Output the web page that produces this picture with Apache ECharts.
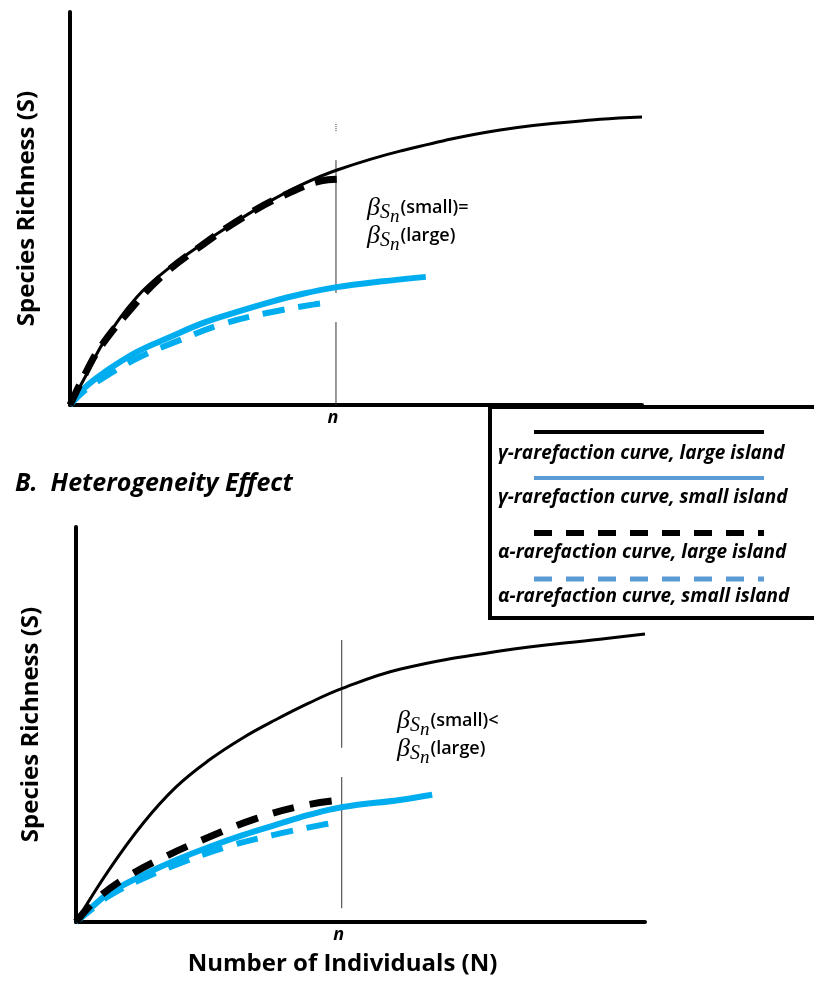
<!DOCTYPE html>
<html>
<head>
<meta charset="utf-8">
<script src="https://cdn.jsdelivr.net/npm/echarts@6/dist/echarts.min.js"></script>
<style>
  html, body { margin: 0; padding: 0; background: #fff; }
  #chart { width: 814px; height: 988px; }
</style>
</head>
<body>
<div id="chart"></div>
<script>
// Rarefaction curves, [N, S] pairs in relative units (0-100 on both axes)

// Panel A: same heterogeneity on both islands
const topGammaLarge = [[0,0],[3.0,8.1],[5.8,15.8],[11.7,27.5],[17.5,35.1],[23.3,41.2],[29.2,46.8],[34.9,51.8],[40.7,56.2],[46.7,59.8],[57.7,64.6],[75.2,70.0],[92.7,72.7],[100,73.3]];
const topAlphaLarge = [[0,0],[2.5,7.5],[5.2,14.5],[10.5,24.2],[16.3,33.1],[23.1,40.7],[30.1,47.6],[36.7,52.9],[45.1,57.3],[47.6,57.5]];
const topGammaSmall = [[0,0],[2.5,4.3],[5.8,8.1],[11.7,13.5],[17.5,17.3],[23.3,20.9],[29.2,23.7],[35.0,26.2],[40.7,28.3],[46.7,30.0],[54.2,31.4],[62.2,32.6]];
const topAlphaSmall = [[0,0],[2.5,3.6],[5.8,6.9],[12.2,12.2],[19.2,16.5],[26.2,20.4],[34.4,23.4],[42.7,25.6],[45.1,26.0]];

// Panel B: heterogeneity effect
const botGammaLarge = [[0,0],[5.8,13.2],[11.8,25.0],[17.6,34.2],[23.4,41.0],[29.3,46.6],[35.1,51.2],[40.9,55.4],[46.9,59.2],[56.9,64.0],[74.5,68.6],[92.1,71.6],[100,72.9]];
const botAlphaLarge = [[0,0],[3.5,5.6],[8.4,10.9],[15.6,16.5],[23.4,21.5],[31.5,26.1],[39.7,29.4],[46.6,30.9]];
const botGammaSmall = [[0,0],[2.9,3.9],[5.8,7.3],[11.8,11.9],[17.6,15.7],[23.4,19.0],[29.3,22.0],[35.1,24.6],[40.9,27.1],[46.9,29.1],[56.9,30.9],[62.6,32.2]];
const botAlphaSmall = [[0,0],[2.9,3.4],[5.8,6.6],[11.8,11.0],[18.3,14.9],[26.4,19.0],[34.6,22.0],[43.2,24.6],[45.3,25.1]];

// Sample size n marked on each panel
const nTop = 46.5;
const nBot = 46.7;
const nTopGuide = [[nTop,0],[nTop,21.1],[nTop,'-'],[nTop,28.5],[nTop,62.3]];
const nTopDots = [[nTop,69.7],[nTop,71.8]];
const nBotGuide = [[nBot,3.5],[nBot,36.7],[nBot,'-'],[nBot,44.1],[nBot,71.4]];

const xTitle = 'Number of Individuals (N)';
const yTitle = 'Species Richness (S)';
const panelBTitle = 'B.  Heterogeneity Effect';
const legendLabels = [
  'γ-rarefaction curve, large island',
  'γ-rarefaction curve, small island',
  'α-rarefaction curve, large island',
  'α-rarefaction curve, small island'
];
const noteTop = ['{b|β}{s|S}{m|n}{t|(small)=}', '{b|β}{s|S}{m|n}{t|(large)}'];
const noteBot = ['{b|β}{s|S}{m|n}{t|(small)<}', '{b|β}{s|S}{m|n}{t|(large)}'];

const BLACK = '#000000';
const CYAN = '#00aeef';
const LEGEND_BLUE = '#5b9bd5';
const SANS = '"Open Sans", "Noto Sans", sans-serif';
const SERIF = '"Liberation Serif", "DejaVu Serif", serif';

const chart = echarts.init(document.getElementById('chart'), null, { renderer: 'canvas' });

function xAx(gridIndex, nVal, withName) {
  return {
    type: 'value', gridIndex, min: 0, max: 100,
    axisLine: { show: true, onZero: false, lineStyle: { color: BLACK, width: 4 } },
    axisTick: { show: false },
    splitLine: { show: false },
    axisLabel: {
      customValues: [nVal],
      formatter: () => 'n',
      color: BLACK, fontFamily: SANS, fontWeight: 'bold', fontStyle: 'italic',
      fontSize: 18, margin: 4, padding: [0, 6, 0, 0]
    },
    name: withName ? xTitle : '',
    nameLocation: 'middle', nameGap: 30,
    nameTextStyle: { color: BLACK, fontFamily: SANS, fontWeight: 'bold', fontSize: 24, padding: [0, 36, 0, 0] }
  };
}
function yAx(gridIndex, gap) {
  return {
    type: 'value', gridIndex, min: 0, max: 100,
    axisLine: { show: true, onZero: false, lineStyle: { color: BLACK, width: 4 } },
    axisTick: { show: false }, axisLabel: { show: false }, splitLine: { show: false },
    name: yTitle, nameLocation: 'middle', nameGap: gap,
    nameTextStyle: { color: BLACK, fontFamily: SANS, fontWeight: 'bold', fontSize: 24 }
  };
}
function curve(data, gi, color, width, dash) {
  return {
    type: 'line', xAxisIndex: gi, yAxisIndex: gi, data,
    smooth: 0.4, showSymbol: false, silent: true,
    lineStyle: { color, width, type: dash || 'solid', cap: 'butt' }
  };
}
function guide(data, gi, type) {
  return {
    type: 'line', xAxisIndex: gi, yAxisIndex: gi, data, connectNulls: false,
    showSymbol: false, silent: true, z: 1,
    lineStyle: { color: '#333', width: 1, type: type || 'solid' }
  };
}

// beta diversity note: beta, subscript S, sub-subscript n, then the island label
const richNote = {
  b: { fontFamily: SERIF, fontStyle: 'italic', fontSize: 26, color: BLACK, verticalAlign: 'top', lineHeight: 28 },
  s: { fontFamily: SERIF, fontStyle: 'italic', fontSize: 20, color: BLACK, verticalAlign: 'top', lineHeight: 20, padding: [8, 0, 0, 0] },
  m: { fontFamily: SERIF, fontStyle: 'italic', fontSize: 19, color: BLACK, verticalAlign: 'top', lineHeight: 18, padding: [12, 1, 0, 0] },
  t: { fontFamily: SANS, fontWeight: 600, fontSize: 18, color: BLACK, verticalAlign: 'top', lineHeight: 20, padding: [4, 0, 0, 0] }
};

// Legend drawn as a boxed block, sample line above each label
const legendRows = [
  { ly: 432, ty: 454, color: BLACK, width: 4, dash: 'solid' },
  { ly: 478, ty: 498, color: LEGEND_BLUE, width: 4, dash: 'solid' },
  { ly: 533, ty: 553, color: BLACK, width: 6, dash: [18, 14] },
  { ly: 579, ty: 597, color: LEGEND_BLUE, width: 5, dash: [18, 14] }
];
const legendGraphics = [{
  type: 'rect', shape: { x: 490, y: 407, width: 340, height: 211 },
  style: { fill: '#fff', stroke: BLACK, lineWidth: 4 }, z: 10
}];
legendRows.forEach((r, i) => {
  legendGraphics.push({
    type: 'line', shape: { x1: 534, y1: r.ly, x2: 764, y2: r.ly },
    style: { stroke: r.color, lineWidth: r.width, lineDash: r.dash === 'solid' ? null : r.dash }, z: 11
  });
  legendGraphics.push({
    type: 'text', x: 498, y: r.ty,
    style: { text: legendLabels[i], fill: BLACK, font: 'italic bold 19px ' + SANS, textVerticalAlign: 'middle', textAlign: 'left' },
    z: 11
  });
});

chart.setOption({
  animation: false,
  backgroundColor: '#fff',
  title: {
    text: panelBTitle, left: 15, top: 471, padding: 0,
    textStyle: { color: BLACK, fontFamily: SANS, fontWeight: 'bold', fontStyle: 'italic', fontSize: 25 }
  },
  grid: [
    { left: 70, top: 12, width: 572, height: 393 },
    { left: 76, top: 527, width: 569, height: 395 }
  ],
  xAxis: [xAx(0, nTop, false), xAx(1, nBot, true)],
  yAxis: [yAx(0, 31), yAx(1, 33)],
  series: [
    guide(nTopGuide, 0), guide(nTopDots, 0, 'dotted'), guide(nBotGuide, 1),
    curve(topAlphaSmall, 0, CYAN, 6, [22, 14]),
    curve(topGammaSmall, 0, CYAN, 6),
    curve(topGammaLarge, 0, BLACK, 3),
    curve(topAlphaLarge, 0, BLACK, 7, [22, 12]),
    curve(botAlphaSmall, 1, CYAN, 6, [22, 14]),
    curve(botGammaSmall, 1, CYAN, 6),
    curve(botGammaLarge, 1, BLACK, 3),
    curve(botAlphaLarge, 1, BLACK, 7, [22, 16])
  ],
  graphic: [
    { type: 'text', x: 367, y: 195, style: { text: noteTop.join('\n'), rich: richNote } },
    { type: 'text', x: 397, y: 708, style: { text: noteBot.join('\n'), rich: richNote } }
  ].concat(legendGraphics)
});
</script>
</body>
</html>
